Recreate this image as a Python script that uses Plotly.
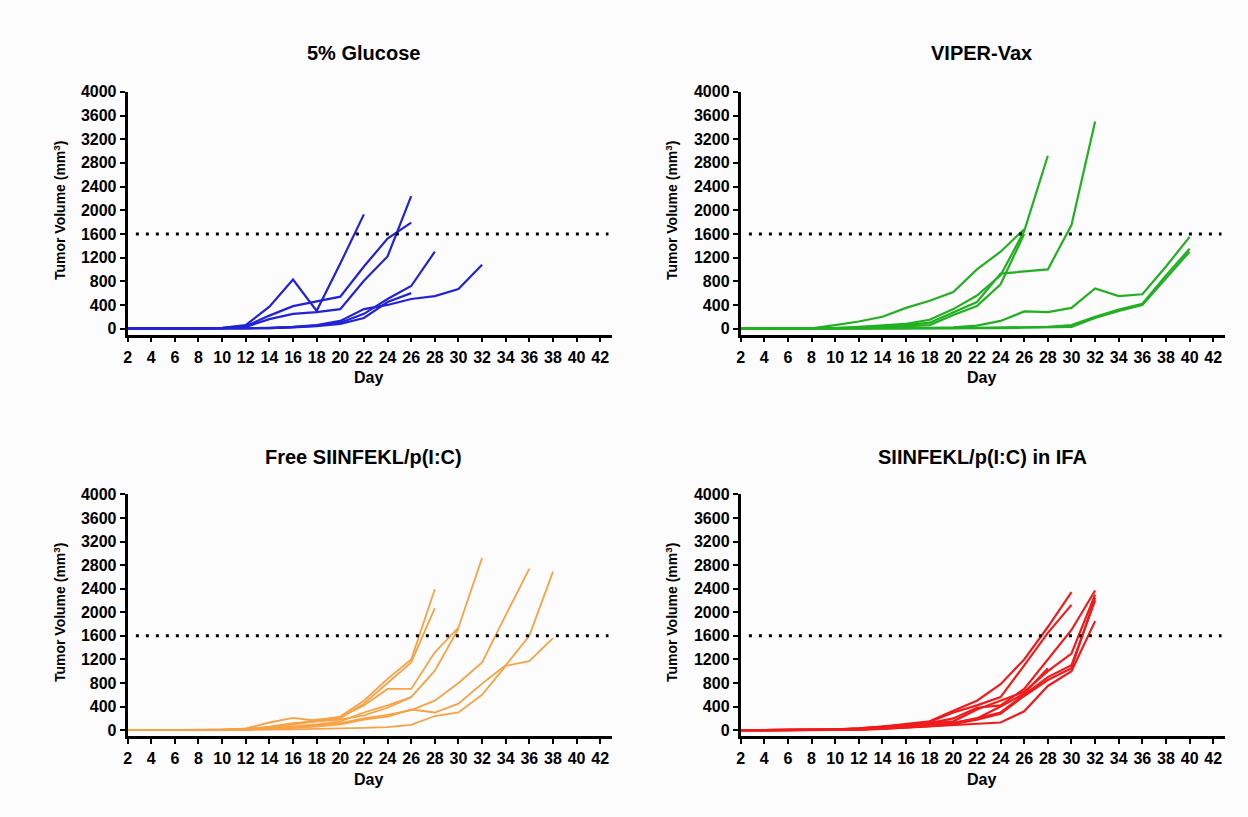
import plotly.graph_objects as go

W, H = 1248, 817

DAYS = list(range(2, 44, 2))
X_TICKS = list(range(2, 44, 2))
Y_TICKS = list(range(0, 4001, 400))
THRESHOLD = 1600

PANEL_TITLES = ["5% Glucose", "VIPER-Vax", "Free SIINFEKL/p(I:C)", "SIINFEKL/p(I:C) in IFA"]

# Each series starts at day 2, measured every 2 days
glucose = [
    [0, 0, 0, 0, 15, 60, 370, 830, 300, 1100, 1930],
    [0, 0, 0, 0, 10, 40, 220, 380, 460, 540, 1050, 1520, 1790],
    [0, 0, 0, 0, 10, 30, 160, 250, 280, 330, 810, 1220, 2240],
    [0, 0, 0, 0, 0, 5, 10, 25, 50, 100, 250, 500, 720, 1300],
    [0, 0, 0, 0, 0, 5, 10, 20, 40, 80, 180, 450, 600],
    [0, 0, 0, 0, 0, 5, 15, 30, 60, 130, 330, 400, 500, 550, 670, 1080],
]
viper_vax = [
    [0, 0, 0, 5, 60, 120, 200, 350, 470, 620, 1000, 1300, 1680],
    [0, 0, 0, 0, 10, 30, 50, 80, 150, 330, 560, 900, 1650, 2920],
    [0, 0, 0, 0, 10, 20, 40, 60, 100, 280, 450, 930, 970, 1000, 1750, 3500],
    [0, 0, 0, 0, 5, 10, 20, 40, 60, 230, 380, 750, 1600],
    [0, 0, 0, 0, 0, 0, 5, 10, 15, 20, 50, 130, 290, 280, 350, 680, 550, 580, 1050, 1550],
    [0, 0, 0, 0, 0, 0, 0, 5, 5, 10, 15, 20, 20, 30, 60, 200, 320, 420, 900, 1350],
    [0, 0, 0, 0, 0, 0, 0, 0, 5, 5, 10, 10, 15, 20, 30, 180, 300, 400, 850, 1300],
]
free_siinfekl = [
    [0, 0, 0, 0, 10, 30, 130, 210, 160, 230, 500, 870, 1200, 2390],
    [0, 0, 0, 0, 10, 20, 60, 120, 150, 200, 450, 800, 1150, 2070],
    [0, 0, 0, 0, 5, 20, 50, 100, 180, 220, 420, 700, 700, 1320, 1740, 2920],
    [0, 0, 0, 0, 5, 10, 30, 60, 100, 150, 300, 420, 560, 1010, 1720],
    [0, 0, 0, 0, 0, 10, 20, 40, 80, 120, 200, 260, 340, 500, 800, 1150, 1950, 2740],
    [0, 0, 0, 0, 0, 10, 20, 40, 60, 100, 180, 230, 350, 300, 450, 790, 1100, 1600, 2690],
    [0, 0, 0, 0, 0, 5, 10, 15, 20, 30, 40, 50, 90, 240, 300, 600, 1090, 1170, 1560],
    [0, 0, 0, 0, 5, 15, 40, 100, 150, 180, 250, 380, 560],
]
siinfekl_ifa = [
    [0, 0, 0, 5, 15, 30, 60, 100, 150, 330, 500, 780, 1200, 1750, 2340],
    [0, 0, 0, 5, 10, 30, 60, 90, 140, 300, 420, 560, 1100, 1650, 2125],
    [0, 0, 0, 0, 10, 25, 50, 80, 120, 200, 380, 420, 700, 1200, 1700, 2370],
    [0, 0, 0, 0, 10, 20, 40, 70, 110, 150, 350, 500, 650, 1000, 1300, 2300],
    [0, 0, 0, 0, 5, 15, 30, 50, 80, 120, 200, 300, 600, 900, 1100, 2200],
    [0, 0, 0, 0, 5, 10, 20, 40, 60, 80, 100, 130, 320, 750, 1000, 1850],
    [0, 0, 0, 0, 5, 10, 25, 45, 70, 100, 180, 280, 580, 850, 1050, 2250],
    [0, 0, 0, 0, 5, 15, 30, 60, 100, 120, 200, 400, 620, 1050],
]

GROUPS = [glucose, viper_vax, free_siinfekl, siinfekl_ifa]
COLORS = ["#2222d6", "#22b022", "#f7a246", "#ee1c1c"]
WIDTHS = [2.2, 2.2, 1.8, 2.2]

FONT = "Liberation Sans, Arial, sans-serif"

# pixel geometry of the panels
X_DOM_PX = [(124, 610), (739, 1225), (124, 610), (739, 1225)]
Y_DOM_PX = [(85, 331), (85, 331), (493, 738), (493, 738)]
TITLE_Y_PX = [46, 46, 455, 455]
TITLE_X_PX = [361, 981, 361, 982]
DAY_Y_PX = [375, 375, 782, 782]
YT_X_PX = [56, 670, 56, 670]

fig = go.Figure()

for i, (group, color, lw) in enumerate(zip(GROUPS, COLORS, WIDTHS)):
    n = i + 1
    xa = "x" if n == 1 else f"x{n}"
    ya = "y" if n == 1 else f"y{n}"
    for vals in group:
        fig.add_trace(go.Scatter(
            x=DAYS[:len(vals)], y=vals, mode="lines",
            line=dict(color=color, width=lw),
            xaxis=xa, yaxis=ya, showlegend=False, hoverinfo="skip",
        ))
    x0, x1 = X_DOM_PX[i]
    y0, y1 = Y_DOM_PX[i]
    xdom = [x0 / W, x1 / W]
    ydom = [(H - y1) / H, (H - y0) / H]
    axis_common = dict(
        showline=True, linecolor="black", linewidth=2.8, mirror=False,
        ticks="outside", ticklen=5, tickwidth=2.2, tickcolor="black",
        showgrid=False, zeroline=False,
        tickfont=dict(family=FONT, size=16, color="black"),
        fixedrange=True,
    )
    fig.update_layout(**{
        ("xaxis" if n == 1 else f"xaxis{n}"): dict(
            domain=xdom, range=[2, 43], anchor=ya, tickmode="array",
            tickvals=X_TICKS, ticktext=[f"<b>{t}</b>" for t in X_TICKS],
            ticklabelstandoff=1, **axis_common),
        ("yaxis" if n == 1 else f"yaxis{n}"): dict(
            domain=ydom, range=[-100, 4000], anchor=xa, tickmode="array",
            tickvals=Y_TICKS, ticktext=[f"<b>{t}</b>" for t in Y_TICKS],
            ticklabelstandoff=0, **axis_common),
    })
    # threshold line
    fig.add_shape(type="line", xref=xa, yref=ya, x0=2.7, x1=42.7,
                  y0=THRESHOLD, y1=THRESHOLD,
                  line=dict(color="black", width=3, dash="3px,7px"))
    # panel title
    fig.add_annotation(text=f"<b>{PANEL_TITLES[i]}</b>", xref="paper", yref="paper",
                       x=TITLE_X_PX[i] / W, y=(H - TITLE_Y_PX[i]) / H,
                       xanchor="center", yanchor="middle", showarrow=False,
                       font=dict(family=FONT, size=20, color="black"))
    # x title
    fig.add_annotation(text="<b>Day</b>", xref="paper", yref="paper",
                       x=((x0 + x1) / 2 - 1) / W, y=(H - DAY_Y_PX[i]) / H,
                       xanchor="center", yanchor="middle", showarrow=False,
                       font=dict(family=FONT, size=16, color="black"))
    # y title
    fig.add_annotation(text="<b>Tumor Volume (mm<sup>3</sup>)</b>", xref="paper", yref="paper",
                       x=YT_X_PX[i] / W, y=(H - (y0 + y1) / 2 + 3) / H,
                       xanchor="center", yanchor="middle", showarrow=False, textangle=-90,
                       font=dict(family=FONT, size=14, color="black"))

fig.update_layout(
    width=W, height=H,
    margin=dict(l=0, r=0, t=0, b=0),
    paper_bgcolor="#fcfcfc", plot_bgcolor="#fcfcfc",
    showlegend=False,
)

fig.write_html("out.html", config={"displayModeBar": False},
               post_script="document.body.style.margin='0';document.body.style.overflow='hidden';")
